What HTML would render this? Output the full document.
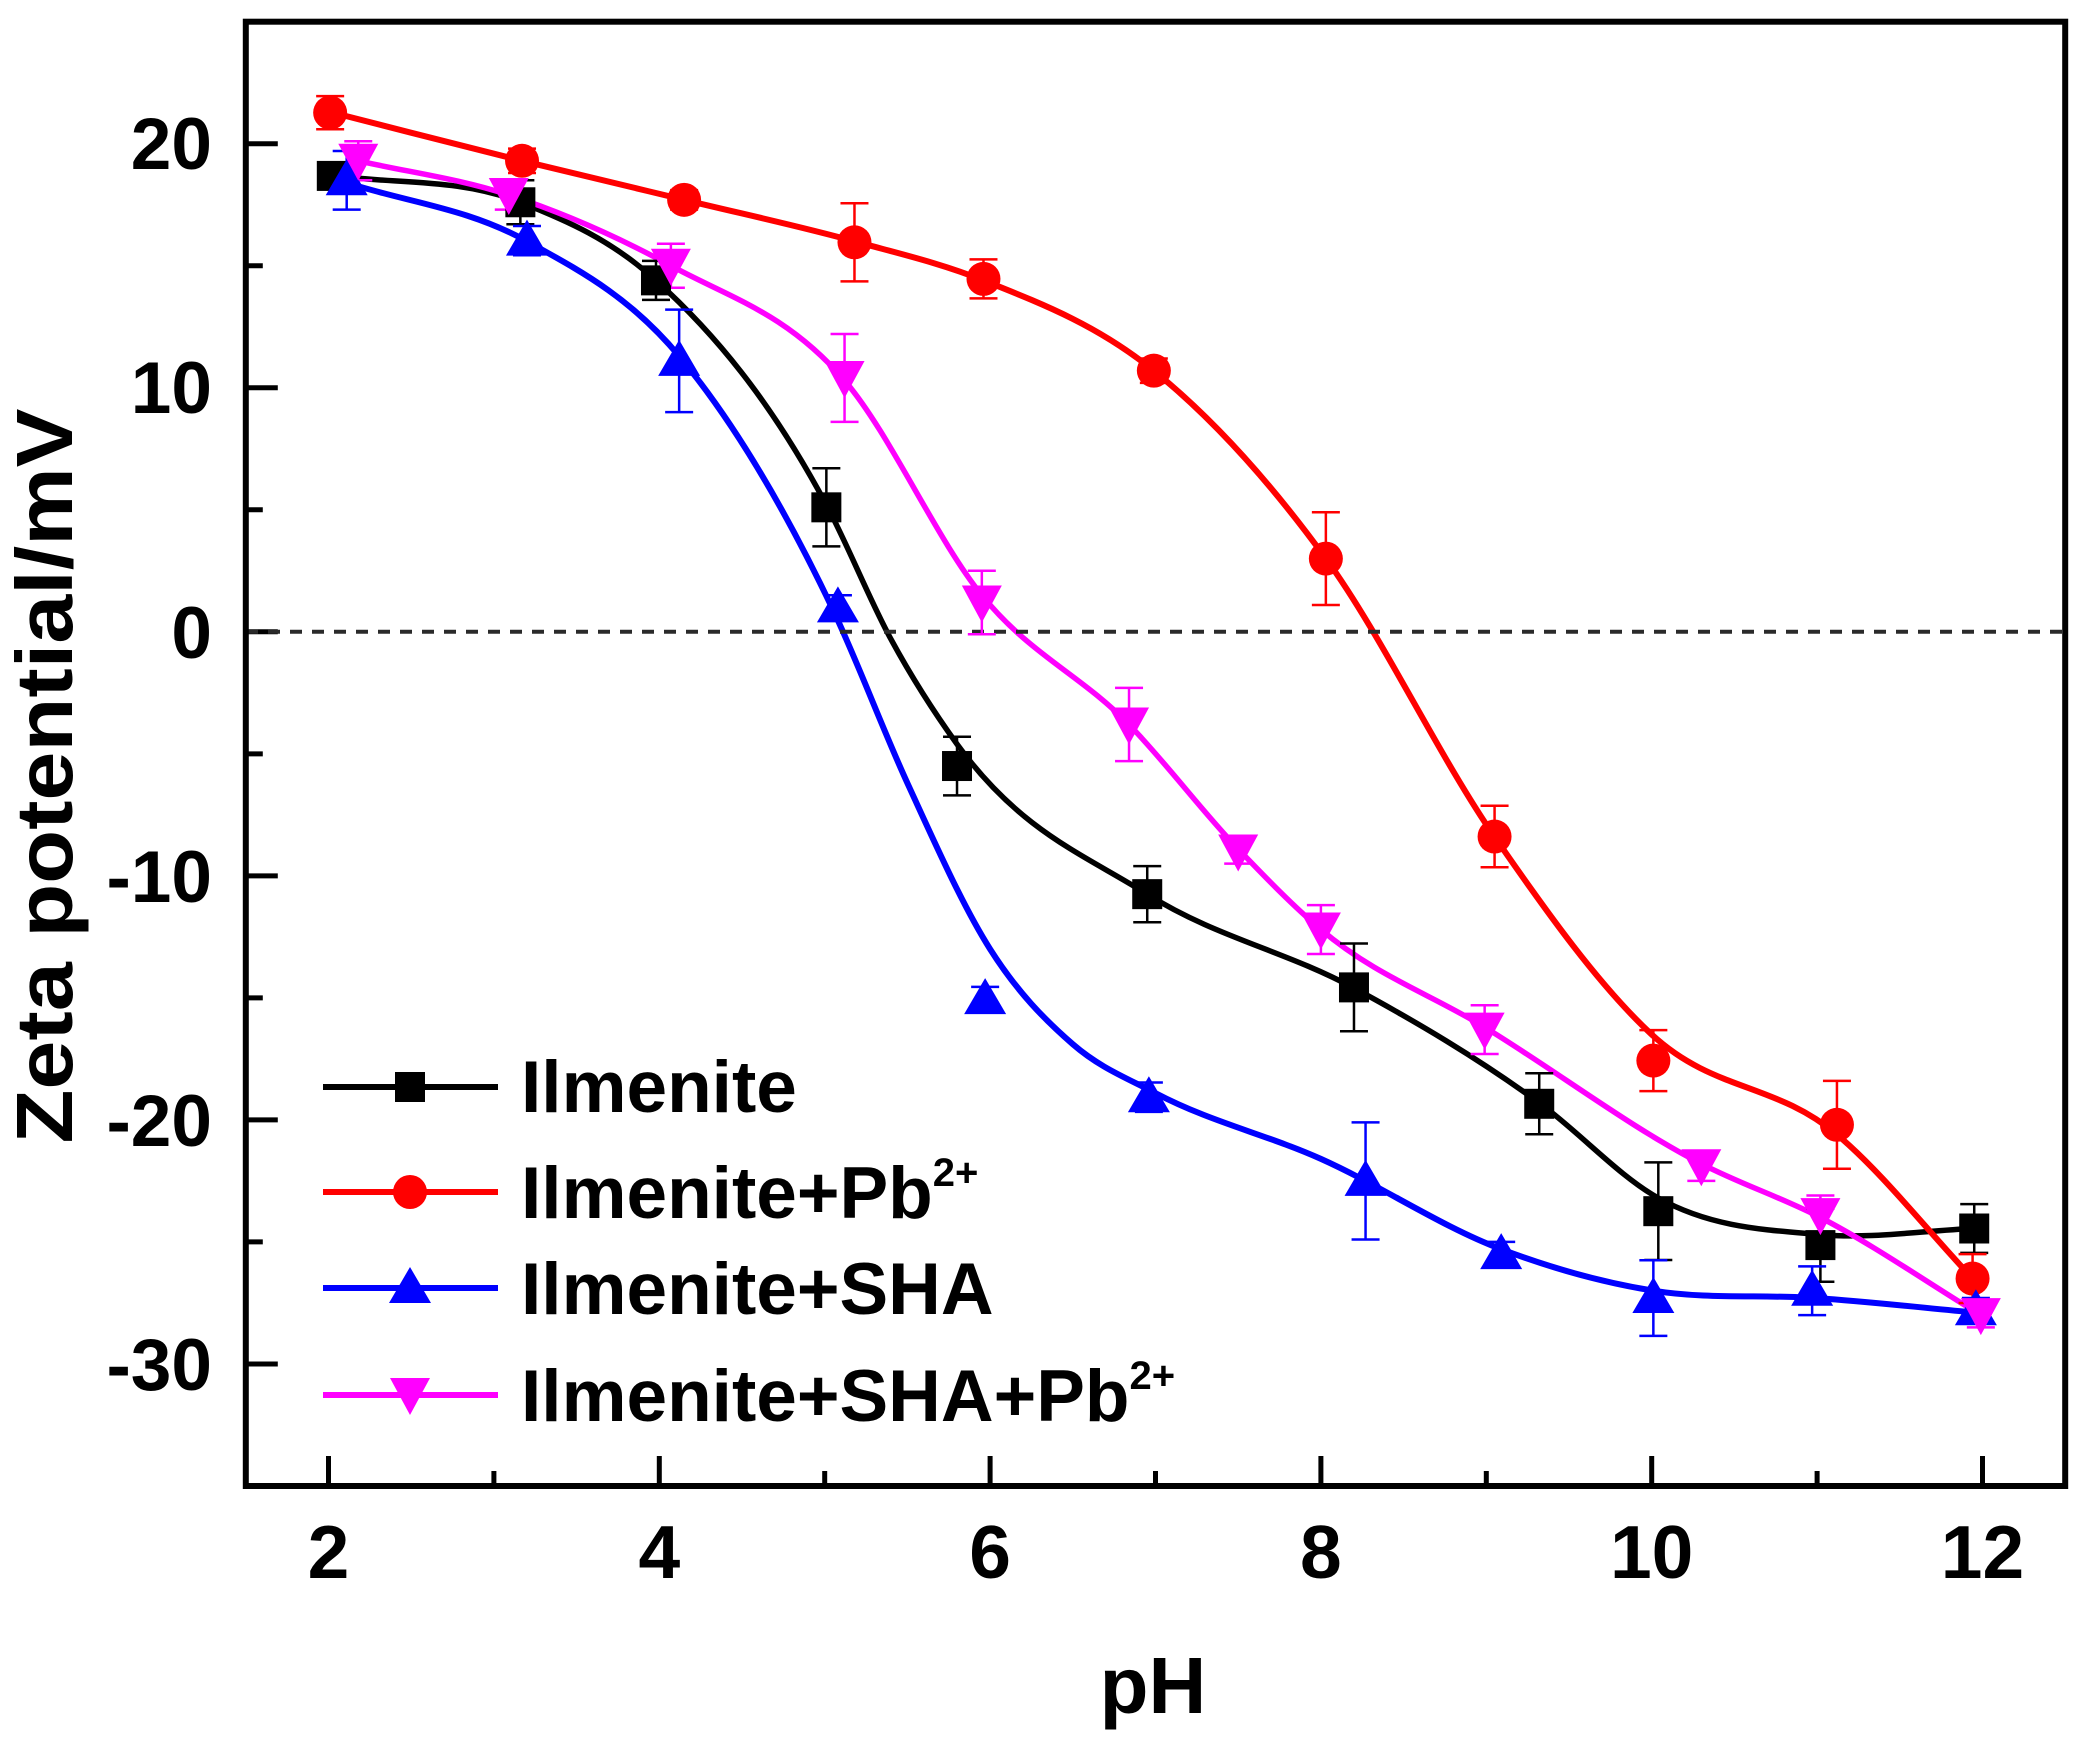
<!DOCTYPE html>
<html>
<head>
<meta charset="utf-8">
<style>
  html,body{margin:0;padding:0;background:#fff;}
  svg{display:block;}
  text{font-family:"Liberation Sans", Arial, sans-serif;font-weight:bold;fill:#000;}
</style>
</head>
<body>
<svg id="chart" width="2080" height="1739" viewBox="0 0 2080 1739" xmlns="http://www.w3.org/2000/svg">
  <rect x="0" y="0" width="2080" height="1739" fill="#fff"/>
  <g id="ticks"></g>
  <g id="curves"></g>
  <line x1="246" y1="631.8" x2="2063" y2="631.8" stroke="#2a2a2a" stroke-width="4" stroke-dasharray="12 10"/>
  <g id="errs"></g>
  <g id="marks"></g>
  <rect x="245.8" y="21.7" width="1819.4" height="1464.3" fill="none" stroke="#000" stroke-width="6"/>

  <!-- Y tick labels -->
  <g font-size="73" text-anchor="end">
    <text x="212" y="169">20</text>
    <text x="212" y="413">10</text>
    <text x="212" y="658">0</text>
    <text x="212" y="902">-10</text>
    <text x="212" y="1146">-20</text>
    <text x="212" y="1390">-30</text>
  </g>
  <!-- X tick labels -->
  <g font-size="75" text-anchor="middle">
    <text x="328.5" y="1578">2</text>
    <text x="659.3" y="1578">4</text>
    <text x="990.1" y="1578">6</text>
    <text x="1320.9" y="1578">8</text>
    <text x="1651.7" y="1578">10</text>
    <text x="1982.5" y="1578">12</text>
  </g>
  <!-- Axis titles -->
  <text x="1153" y="1713" font-size="80" text-anchor="middle">pH</text>
  <text transform="translate(72,776) rotate(-90)" font-size="80" text-anchor="middle" textLength="735" lengthAdjust="spacingAndGlyphs">Zeta potential/mV</text>

  <!-- Legend -->
  <g id="legend"></g>
  <g font-size="73">
    <text x="521" y="1112">Ilmenite</text>
    <text x="521" y="1218">Ilmenite+Pb<tspan font-size="40" dy="-32">2+</tspan></text>
    <text x="521" y="1314">Ilmenite+SHA</text>
    <text x="521" y="1421">Ilmenite+SHA+Pb<tspan font-size="40" dy="-32">2+</tspan></text>
  </g>
</svg>
<script>
(function(){
  var NS="http://www.w3.org/2000/svg";
  function X(p){return 328.5+(p-2)*165.4;}
  function Y(v){return 631.8-v*24.405;}
  function el(tag,attrs,parent){var e=document.createElementNS(NS,tag);for(var k in attrs)e.setAttribute(k,attrs[k]);parent.appendChild(e);return e;}
  function spline(pts){
    var P=pts.map(function(p){return [X(p[0]),Y(p[1])];});
    var n=P.length,h=[],d=[],m=[];
    for(var i=0;i<n-1;i++){h[i]=P[i+1][0]-P[i][0];d[i]=(P[i+1][1]-P[i][1])/h[i];}
    m[0]=d[0];m[n-1]=d[n-2];
    for(var i=1;i<n-1;i++){m[i]=(h[i]*d[i-1]+h[i-1]*d[i])/(h[i-1]+h[i]);}
    var s="M"+P[0][0].toFixed(1)+","+P[0][1].toFixed(1);
    for(var i=0;i<n-1;i++){
      var c1x=P[i][0]+h[i]/3,c1y=P[i][1]+m[i]*h[i]/3;
      var c2x=P[i+1][0]-h[i]/3,c2y=P[i+1][1]-m[i+1]*h[i]/3;
      s+=" C"+c1x.toFixed(1)+","+c1y.toFixed(1)+" "+c2x.toFixed(1)+","+c2y.toFixed(1)+" "+P[i+1][0].toFixed(1)+","+P[i+1][1].toFixed(1);
    }
    return s;
  }
  var ticks=document.getElementById("ticks");
  for(var v=-30;v<=20;v+=5){
    var major=(v%10===0);
    var y=Y(v);
    el("line",{x1:245.8,y1:y,x2:245.8+(major?32:17),y2:y,stroke:"#000","stroke-width":5},ticks);
  }
  for(var p=2;p<=12;p+=1){
    var major2=(p%2===0);
    var x=X(p);
    el("line",{x1:x,y1:1486,x2:x,y2:1486-(major2?30:15),stroke:"#000","stroke-width":5},ticks);
  }

  var series=[
    {color:"#000000",marker:"sq",w:5.5,
     pts:[[2.02,18.68,0.5],[3.16,17.6,0.9],[3.98,14.4,0.8],[5.01,5.1,1.6],[5.80,-5.5,1.2],[6.95,-10.75,1.15],[8.20,-14.57,1.8],[9.32,-19.34,1.25],[10.04,-23.74,2.0],[11.02,-25.13,1.5],[11.95,-24.45,1.0]],
     curve:[[2.02,18.7],[3.16,17.6],[3.98,14.4],[5.01,5.2],[5.4,-0.3],[5.8,-4.6],[6.95,-10.75],[8.2,-14.6],[9.32,-19.3],[10.04,-23.2],[11.02,-24.7],[11.95,-24.45]]},
    {color:"#ff0000",marker:"ci",w:6,
     pts:[[2.01,21.27,0.68],[3.17,19.3,0.5],[4.15,17.7,0.4],[5.18,15.96,1.6],[5.96,14.46,0.8],[6.99,10.7,0.5],[8.03,3.0,1.9],[9.05,-8.39,1.26],[10.01,-17.57,1.25],[11.12,-20.2,1.8],[11.94,-26.5,1.0]],
     curve:[[2.01,21.3],[3.17,19.3],[4.15,17.7],[5.18,16.0],[5.96,14.4],[6.99,10.7],[8.03,3.0],[9.05,-8.4],[10.0,-16.5],[11.12,-20.6],[11.94,-26.5]]},
    {color:"#0000ff",marker:"up",w:6,
     pts:[[2.11,18.5,1.2],[3.2,16.03,0.6],[4.12,11.1,2.1],[5.08,1.0,0.5],[5.97,-15.05,0.5],[6.96,-19.07,0.6],[8.27,-22.5,2.4],[9.09,-25.5,0.5],[10.01,-27.3,1.55],[10.97,-27.0,1.0],[11.96,-27.8,0.5]],
     curve:[[2.11,18.4],[3.2,16.0],[4.12,11.3],[5.05,0.9],[5.5,-6.2],[6.0,-13.0],[6.5,-16.9],[7.0,-18.9],[8.0,-21.6],[9.09,-25.3],[10.01,-27.0],[11.0,-27.3],[11.96,-27.9]]},
    {color:"#ff00ff",marker:"dn",w:5.5,
     pts:[[2.18,19.3,0.8],[3.09,17.9,0.6],[4.07,15.0,0.9],[5.12,10.4,1.8],[5.95,1.2,1.3],[6.84,-3.8,1.5],[7.5,-9.0,0.5],[8.0,-12.2,1.0],[8.99,-16.3,1.0],[10.3,-21.9,0.6],[11.02,-23.9,0.8],[11.99,-28.0,0.5]],
     curve:[[2.18,19.3],[3.09,17.9],[4.07,15.0],[5.12,10.3],[5.95,1.5],[6.84,-3.8],[7.5,-8.9],[8.0,-12.2],[8.99,-16.2],[10.3,-21.8],[11.02,-24.0],[11.99,-28.0]]}
  ];
  var curves=document.getElementById("curves"),errs=document.getElementById("errs"),marks=document.getElementById("marks");
  function marker(type,x,y,color,parent){
    if(type==="sq"){el("rect",{x:x-15,y:y-15,width:30,height:30,fill:color},parent);}
    else if(type==="ci"){el("circle",{cx:x,cy:y,r:17,fill:color},parent);}
    else if(type==="up"){el("polygon",{points:(x)+","+(y-21)+" "+(x-21)+","+(y+15)+" "+(x+21)+","+(y+15),fill:color},parent);}
    else if(type==="dn"){el("polygon",{points:(x-20)+","+(y-17)+" "+(x+20)+","+(y-17)+" "+(x)+","+(y+20),fill:color},parent);}
  }
  series.forEach(function(s){
    el("path",{d:spline(s.curve),fill:"none",stroke:s.color,"stroke-width":s.w,"stroke-linejoin":"round","stroke-linecap":"round"},curves);
    s.pts.forEach(function(p){
      var x=X(p[0]),y1=Y(p[1]+p[2]),y2=Y(p[1]-p[2]);
      el("line",{x1:x,y1:y1,x2:x,y2:y2,stroke:s.color,"stroke-width":2.5},errs);
      el("line",{x1:x-14,y1:y1,x2:x+14,y2:y1,stroke:s.color,"stroke-width":2.5},errs);
      el("line",{x1:x-14,y1:y2,x2:x+14,y2:y2,stroke:s.color,"stroke-width":2.5},errs);
    });
  });
  series.forEach(function(s){
    s.pts.forEach(function(p){marker(s.marker,X(p[0]),Y(p[1]),s.color,marks);});
  });
  var lg=document.getElementById("legend");
  var rows=[1087,1192,1288,1395];
  series.forEach(function(s,i){
    el("line",{x1:323,y1:rows[i],x2:498,y2:rows[i],stroke:s.color,"stroke-width":6},lg);
    marker(s.marker,410,rows[i],s.color,lg);
  });
})();
</script>
</body>
</html>
